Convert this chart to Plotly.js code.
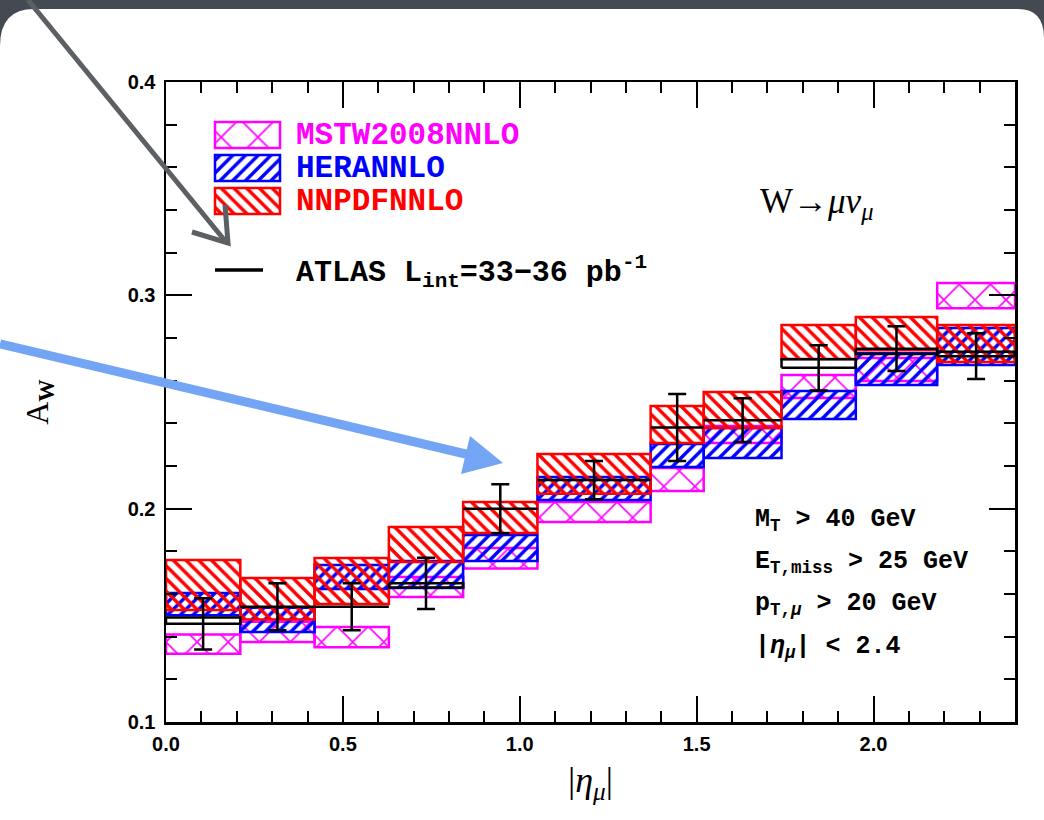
<!DOCTYPE html>
<html>
<head>
<meta charset="utf-8">
<script src="https://cdn.plot.ly/plotly-3.0.1.min.js"></script>
<style>
  html, body { margin: 0; padding: 0; background: #ffffff; }
  #chart { width: 1044px; height: 820px; }
</style>
</head>
<body>
<div id="chart"></div>
<script>
// Muon pseudorapidity bins
const etaEdges = [0.0, 0.21, 0.42, 0.63, 0.84, 1.05, 1.37, 1.52, 1.74, 1.95, 2.18, 2.4];

// PDF predictions for the W charge asymmetry (lower / upper edge of each band)
const mstwLo  = [0.132, 0.1375, 0.135, 0.1586, 0.172, 0.1937, 0.2083, 0.2308, 0.2519, 0.2598, 0.294];
const mstwHi  = [0.141, 0.147, 0.1445, 0.168, 0.1816, 0.2031, 0.2191, 0.2387, 0.2627, 0.2706, 0.3058];
const heraLo  = [0.150, 0.1422, 0.1623, 0.1628, 0.1755, 0.2041, 0.2195, 0.2238, 0.242, 0.258, 0.2673];
const heraHi  = [0.1605, 0.1535, 0.1736, 0.1755, 0.1877, 0.2148, 0.2303, 0.2378, 0.2552, 0.273, 0.2847];
const nnpdfLo = [0.1525, 0.148, 0.1553, 0.175, 0.1886, 0.207, 0.2308, 0.2378, 0.2702, 0.2744, 0.2688];
const nnpdfHi = [0.1759, 0.1675, 0.1769, 0.1914, 0.2031, 0.2256, 0.2481, 0.2547, 0.2861, 0.2898, 0.2861];

// ATLAS measurement: asymmetry, second level of the data box, and error
const atlasAsym = [0.146, 0.154, 0.154, 0.165, 0.200, 0.2134, 0.238, 0.2415, 0.266, 0.275, 0.2715];
const atlasAlt  = [0.149, 0.154, 0.154, 0.163, 0.200, 0.2134, 0.238, 0.2415, 0.270, 0.2725, 0.2735];
const atlasErr  = [0.012, 0.011, 0.011, 0.012, 0.0115, 0.009, 0.0157, 0.0103, 0.0106, 0.0105, 0.0107];

// Legend labels
const modelNames = ['MSTW2008NNLO', 'HERANNLO', 'NNPDFNNLO'];
const dataName = 'ATLAS L<sub><b>int</b></sub>=33\u221236 pb<sup>-1</sup>';

// ---- geometry of the page ----
const W = 1044, H = 820;
const M = { l: 166, r: 29, t: 82, b: 98 };
const PW = W - M.l - M.r, PH = H - M.t - M.b;
const px = x => (x - M.l) / PW;          // page pixel -> paper x
const py = y => (H - M.b - y) / PH;      // page pixel -> paper y

const centers = etaEdges.slice(0, -1).map((e, i) => (e + etaEdges[i + 1]) / 2);
const widths  = etaEdges.slice(0, -1).map((e, i) => etaEdges[i + 1] - e);

const MAG = '#ff00ff', BLU = '#0000ff', RED = '#ff0000';

function band(lo, hi, color, shape, size, solidity) {
  return {
    type: 'bar', x: centers, width: widths,
    base: lo, y: hi.map((h, i) => h - lo[i]),
    marker: {
      color: 'rgba(0,0,0,0)',
      line: { color: color, width: 2.5 },
      pattern: { shape: shape, fgcolor: color, bgcolor: 'rgba(0,0,0,0)', size: size, solidity: solidity }
    },
    hoverinfo: 'skip', showlegend: false
  };
}

const traces = [
  band(mstwLo, mstwHi, MAG, 'x', 22, 0.14),
  band(heraLo, heraHi, BLU, '/', 9, 0.38),
  band(nnpdfLo, nnpdfHi, RED, '\\', 9, 0.38)
];

// ATLAS data boxes per bin
const bx = [], by = [];
etaEdges.slice(0, -1).forEach((e0, i) => {
  const e1 = etaEdges[i + 1], a = atlasAsym[i], b = atlasAlt[i];
  bx.push(e0, e1, e1, e0, e0, null);
  by.push(a, a, b, b, a, null);
});
traces.push({
  type: 'scatter', mode: 'lines', x: bx, y: by,
  line: { color: '#000', width: 2.5 }, hoverinfo: 'skip', showlegend: false
});
traces.push({
  type: 'scatter', mode: 'markers', x: centers, y: atlasAsym,
  marker: { size: 1, color: 'rgba(0,0,0,0)' },
  error_y: { type: 'data', array: atlasErr, visible: true, color: '#000', thickness: 2.5, width: 9 },
  hoverinfo: 'skip', showlegend: false
});

// Legend keys, drawn on a pixel-mapped overlay axis
const keyColors = [MAG, BLU, RED];
const keyShapes = ['x', '/', '\\'];
const keySizes = [26, 9, 9];
const keySolid = [0.12, 0.38, 0.38];
const keyTop = [122, 155, 188];
keyColors.forEach((c, i) => {
  traces.push({
    type: 'bar', x: [247.5], width: [65], base: [keyTop[i]], y: [26],
    xaxis: 'x2', yaxis: 'y2',
    marker: {
      color: 'rgba(0,0,0,0)', line: { color: c, width: 2.5 },
      pattern: { shape: keyShapes[i], fgcolor: c, bgcolor: 'rgba(0,0,0,0)', size: keySizes[i], solidity: keySolid[i] }
    },
    hoverinfo: 'skip', showlegend: false
  });
});
traces.push({
  type: 'scatter', mode: 'lines', x: [215, 263], y: [270, 270], xaxis: 'x2', yaxis: 'y2',
  line: { color: '#000', width: 3.5 }, hoverinfo: 'skip', showlegend: false
});

const mono = 'Liberation Mono, DejaVu Sans Mono, monospace';
const tickFont = { family: 'Liberation Sans, Arial, sans-serif', size: 20, color: '#000', weight: 'bold' };

const ann = [];
modelNames.forEach((n, i) => {
  ann.push({ xref: 'x2', yref: 'y2', x: 294, y: keyTop[i] + 13, text: n, showarrow: false,
    xanchor: 'left', yanchor: 'middle', font: { family: mono, size: 31, color: keyColors[i], weight: 'bold' } });
});
ann.push({ xref: 'x2', yref: 'y2', x: 294, y: 272, text: dataName, showarrow: false,
  xanchor: 'left', yanchor: 'middle', font: { family: mono, size: 30, color: '#000', weight: 'bold' } });
ann.push({ xref: 'x2', yref: 'y2', x: 758, y: 203,
  text: 'W\u2192<i>\u03bc\u03bd</i><sub><i>\u03bc</i></sub>', showarrow: false,
  xanchor: 'left', yanchor: 'middle', font: { family: 'Liberation Serif, serif', size: 35, color: '#000' } });
const cuts = [
  'M<sub><b>T</b></sub> &gt; 40 GeV',
  'E<sub><b>T,miss</b></sub> &gt; 25 GeV',
  'p<sub><b>T,<i>\u03bc</i></b></sub> &gt; 20 GeV',
  '|<i>\u03b7</i><sub><i>\u03bc</i></sub>| &lt; 2.4'
];
const cutY = [520, 562, 604, 647];
cuts.forEach((t, i) => {
  ann.push({ xref: 'x2', yref: 'y2', x: 753, y: cutY[i], text: t, showarrow: false,
    xanchor: 'left', yanchor: 'middle', font: { family: mono, size: 25, color: '#000', weight: 'bold' } });
});

// Overlay drawing: window frame and pointer arrows
const gray = '#5c5f63', blue = '#74a4f4';
const P = (x, y) => px(x) + ',' + py(y);
const shapes = [
  { type: 'path', xref: 'paper', yref: 'paper', layer: 'above',
    path: 'M' + P(0, 0) + ' L' + P(1044, 0) + ' L' + P(1044, 38) + ' Q' + P(1044, 9) + ' ' + P(1018, 9) +
          ' L' + P(34, 9) + ' Q' + P(0, 9) + ' ' + P(0, 46) + ' Z',
    fillcolor: '#454a52', line: { width: 0 } },
  { type: 'path', xref: 'paper', yref: 'paper', layer: 'above',
    path: 'M' + P(28, 0) + ' L' + P(226, 242),
    line: { color: gray, width: 5 } },
  { type: 'path', xref: 'paper', yref: 'paper', layer: 'above',
    path: 'M' + P(192, 232) + ' L' + P(228, 243) + ' L' + P(225, 205),
    line: { color: gray, width: 5 } },
  { type: 'path', xref: 'paper', yref: 'paper', layer: 'above',
    path: 'M' + P(0, 344) + ' L' + P(470, 455),
    line: { color: blue, width: 9 } },
  { type: 'path', xref: 'paper', yref: 'paper', layer: 'above',
    path: 'M' + P(503, 463) + ' L' + P(470, 436) + ' L' + P(461, 474) + ' Z',
    fillcolor: blue, line: { width: 0 } }
];

const layout = {
  width: W, height: H,
  margin: M,
  paper_bgcolor: '#ffffff', plot_bgcolor: '#ffffff',
  barmode: 'overlay', bargap: 0,
  showlegend: false,
  xaxis: {
    range: [0, 2.4], tickvals: [0, 0.5, 1.0, 1.5, 2.0], tickformat: '.1f',
    ticks: 'inside', ticklen: 26, tickwidth: 2, tickcolor: '#000',
    minor: { dtick: 0.1, ticks: 'inside', ticklen: 11, tickwidth: 2, tickcolor: '#000', showgrid: false },
    showline: true, linewidth: 2.5, linecolor: '#000', mirror: 'allticks',
    showgrid: false, zeroline: false, tickfont: tickFont, ticklabelstandoff: 2,
    title: { text: '|<i>\u03b7</i><sub><i>\u03bc</i></sub>|', font: { family: 'Liberation Serif, serif', size: 36, color: '#000' }, standoff: 14 }
  },
  yaxis: {
    range: [0.1, 0.4], dtick: 0.1, tickformat: '.1f',
    ticks: 'inside', ticklen: 26, tickwidth: 2, tickcolor: '#000',
    minor: { dtick: 0.02, ticks: 'inside', ticklen: 11, tickwidth: 2, tickcolor: '#000', showgrid: false },
    showline: true, linewidth: 2.5, linecolor: '#000', mirror: 'allticks',
    showgrid: false, zeroline: false, tickfont: tickFont, ticklabelstandoff: 4,
    title: { text: 'A<sub><b>W</b></sub>', font: { family: 'Liberation Serif, serif', size: 32, color: '#000' }, standoff: 70 }
  },
  xaxis2: { overlaying: 'x', range: [M.l, W - M.r], visible: false, anchor: 'y2', fixedrange: true },
  yaxis2: { overlaying: 'y', range: [H - M.b, M.t], visible: false, anchor: 'x2', fixedrange: true },
  annotations: ann,
  shapes: shapes
};

Plotly.newPlot('chart', traces, layout, { staticPlot: true, displayModeBar: false });
</script>
</body>
</html>
